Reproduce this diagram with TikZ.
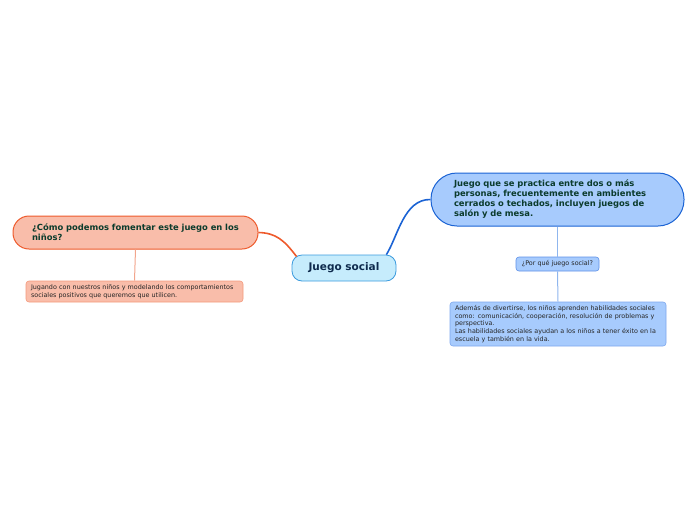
\documentclass[tikz,border=0pt]{standalone}
\usepackage{fontspec}
\setmainfont{DejaVu Sans}
\usepackage{xcolor}
\usepackage{tikz}
\usetikzlibrary{positioning,calc}
\definecolor{centerfill}{HTML}{C6ECFC}
\definecolor{centerdraw}{HTML}{3B9BDE}
\definecolor{bluefill}{HTML}{A7CBFD}
\definecolor{bluedraw}{HTML}{1B63D4}
\definecolor{bluesub}{HTML}{5E91E8}
\definecolor{bluetwig}{HTML}{8FB6EE}
\definecolor{salmonfill}{HTML}{F9BDAA}
\definecolor{salmondraw}{HTML}{EE5A2C}
\definecolor{salmonsub}{HTML}{F49A7C}
\definecolor{salmontwig}{HTML}{F2A58C}
\definecolor{topictext}{HTML}{0B3B2C}
\definecolor{centertext}{HTML}{0E2A4D}

\begin{document}
\begin{tikzpicture}[x=1pt,y=-1pt,
  topic/.style={draw, line width=1pt, align=left, font=\bfseries\fontsize{8.4}{10}\selectfont, text=topictext, inner ysep=0pt},
  subtopic/.style={draw, line width=0.6pt, rounded corners=3pt, align=left, font=\fontsize{6.4}{7.6}\selectfont, text=black!85, inner ysep=2pt},
  branch/.style={line width=1.6pt},
  twig/.style={line width=1pt}]
\useasboundingbox (0,0) rectangle (696,520);
% Centre
\node[draw=centerdraw, fill=centerfill, line width=0.8pt, rounded corners=10pt, minimum width=104pt, minimum height=26pt, font=\bfseries\fontsize{10.5}{12}\selectfont, text=centertext] (centro) at (344,268) {Juego social};
% Right topic
\node[topic, draw=bluedraw, fill=bluefill, rounded corners=26pt, text width=207pt, inner xsep=23pt, minimum height=53pt] (definicion) at (557.5,199.5)
  {Juego que se practica entre dos o más\\personas, frecuentemente en ambientes\\cerrados o techados, incluyen juegos de\\salón y de mesa.};
\node[subtopic, draw=bluesub, fill=bluefill, minimum width=83pt, minimum height=14pt, inner ysep=0pt, align=center] (porque) at (557.5,264) {¿Por qué juego social?};
\node[subtopic, draw=bluesub!80, fill=bluefill, text width=206pt, inner xsep=5pt, minimum height=44pt] (razones) at (558,324)
  {Además de divertirse, los niños aprenden habilidades sociales\\como: comunicación, cooperación, resolución de problemas y\\perspectiva.\\Las habilidades sociales ayudan a los niños a tener éxito en la\\escuela y también en la vida.};
% Left topic
\node[topic, draw=salmondraw, fill=salmonfill, rounded corners=16pt, text width=219pt, inner xsep=13pt, minimum height=33pt] (fomentar) at (135.5,232.5)
  {\hspace*{6pt}¿Cómo podemos fomentar este juego en los\\\hspace*{6pt}niños?};
\node[subtopic, draw=salmonsub, fill=salmonfill, text width=207pt, inner xsep=5pt, minimum height=21pt] (modelar) at (134.5,291.5)
  {Jugando con nuestros niños y modelando los comportamientos\\sociales positivos que queremos que utilicen.};
% Connectors
\draw[branch, bluedraw] ($(centro.north east)+(-10,0)$) .. controls (398,236) and (404,199) .. (definicion.west);
\draw[branch, salmondraw] ($(centro.north west)+(5,2)$) .. controls (284,240) and (276,233) .. (fomentar.east);
\draw[twig, bluetwig] (definicion.south) -- (porque.north);
\draw[twig, bluetwig] (porque.south) -- (razones.north);
\draw[twig, salmontwig] (fomentar.south) -- (modelar.north);
\end{tikzpicture}
\end{document}
